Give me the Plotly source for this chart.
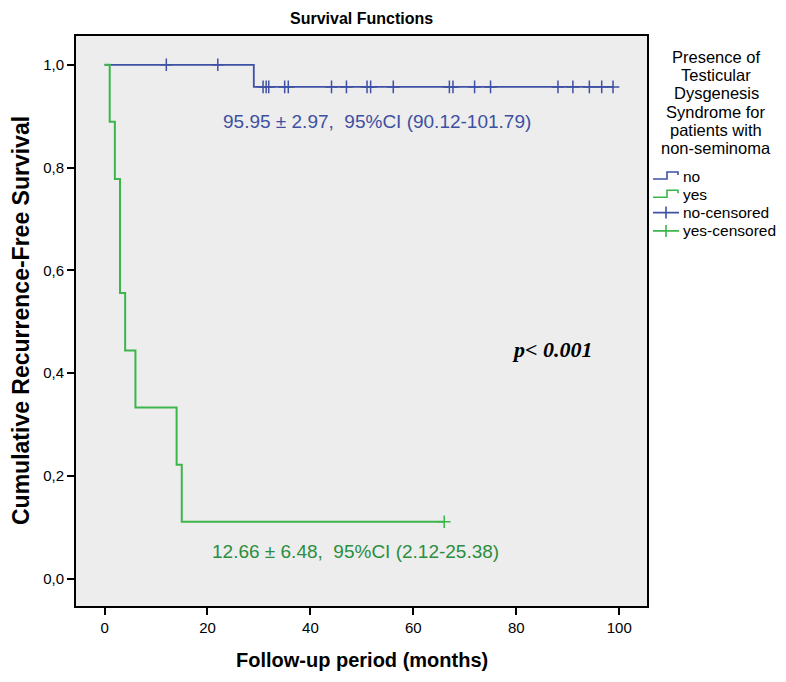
import plotly.graph_objects as go

# ---- data ----
no_time = [0, 29, 98.8]
no_surv = [1.0, 0.957, 0.957]
no_cens_time = [12, 22, 30.8, 31.4, 31.9, 35.0, 35.7, 44.1, 47.0, 51.0, 51.7, 56.1,
                67.0, 67.7, 71.9, 75.0, 88.1, 91.0, 94.2, 96.6, 98.8]
no_cens_surv = [1.0, 1.0] + [0.957] * 19

yes_time = [0, 1, 2, 3, 4, 6, 14, 15, 66]
yes_surv = [1.0, 0.889, 0.778, 0.556, 0.444, 0.333, 0.222, 0.111, 0.111]
yes_cens_time = [66]
yes_cens_surv = [0.111]

x_ticks = [0, 20, 40, 60, 80, 100]
y_ticks = [0.0, 0.2, 0.4, 0.6, 0.8, 1.0]

legend_title_lines = ["Presence of", "Testicular", "Dysgenesis", "Syndrome for",
                      "patients with", "non-seminoma"]
legend_names = ["no", "yes", "no-censored", "yes-censored"]

blue = "#3F51A5"
green = "#3CB54A"
blue_txt = "#3E50A2"
green_txt = "#2B8E3E"
FONT = "Arial, Liberation Sans, sans-serif"

# figure geometry (the page adds an 8px body margin)
W, H = 770, 666
ML, MR, MT, MB = 68, 131, 28, 68
PW, PH = W - ML - MR, H - MT - MB


def px(fx):
    return (fx - ML) / PW


def py(fy):
    return (H - MB - fy) / PH


fig = go.Figure()
fig.add_trace(go.Scatter(x=no_time, y=no_surv, mode="lines", line_shape="hv",
                         line=dict(color=blue, width=1.8), name=legend_names[0]))
fig.add_trace(go.Scatter(x=yes_time, y=yes_surv, mode="lines", line_shape="hv",
                         line=dict(color=green, width=2), name=legend_names[1]))
fig.add_trace(go.Scatter(x=no_cens_time, y=no_cens_surv, mode="markers",
                         marker=dict(symbol="cross-thin", size=9,
                                     line=dict(color=blue, width=1.5)),
                         name=legend_names[2]))
fig.add_trace(go.Scatter(x=yes_cens_time, y=yes_cens_surv, mode="markers",
                         marker=dict(symbol="cross-thin", size=9,
                                     line=dict(color=green, width=1.5)),
                         name=legend_names[3]))

fig.update_layout(
    width=W, height=H,
    margin=dict(l=ML, r=MR, t=MT, b=MB),
    paper_bgcolor="white", plot_bgcolor="#EDEDED",
    separators=",.",
    font=dict(family=FONT, color="black"),
    showlegend=False,
)
fig.update_xaxes(range=[-5.55, 105.4], tickvals=x_ticks, ticks="outside", ticklen=7,
                 tickwidth=2, tickcolor="black", showgrid=False, zeroline=False,
                 showline=True, linecolor="black", linewidth=2, mirror=True,
                 tickfont=dict(size=15))
fig.update_yaxes(range=[-0.053, 1.056], tickvals=y_ticks, tickformat=".1f",
                 ticks="outside", ticklen=7, tickwidth=2, tickcolor="black",
                 showgrid=False, zeroline=False, showline=True, linecolor="black",
                 linewidth=2, mirror=True, tickfont=dict(size=15))

annotations = [
    dict(text="<b>Survival Functions</b>", xref="paper", yref="paper", x=0.5, y=1.0,
         yshift=18, xanchor="center", yanchor="middle", showarrow=False,
         font=dict(size=16)),
    dict(text="<b>Cumulative Recurrence-Free Survival</b>", xref="paper", yref="paper",
         x=0, xshift=-55, y=0.5, textangle=-90, xanchor="center", yanchor="middle",
         showarrow=False, font=dict(size=23)),
    dict(text="<b>Follow-up period (months)</b>", xref="paper", yref="paper",
         x=0.5, y=0, yshift=-54, xanchor="center", yanchor="middle",
         showarrow=False, font=dict(size=20)),
    dict(text="95.95 ± 2.97,  95%CI (90.12-101.79)", xref="x", yref="y",
         x=53.0, y=0.89, xanchor="center", yanchor="middle", showarrow=False,
         font=dict(size=19, color=blue_txt)),
    dict(text="12.66 ± 6.48,  95%CI (2.12-25.38)", xref="x", yref="y",
         x=48.7, y=0.053, xanchor="center", yanchor="middle", showarrow=False,
         font=dict(size=19, color=green_txt)),
    dict(text="<b><i>p&lt; 0.001</i></b>", xref="x", yref="y", x=87.0, y=0.447,
         xanchor="center", yanchor="middle", showarrow=False,
         font=dict(size=22, family="Liberation Serif, Times New Roman, serif")),
]
# legend title (one text per line to keep the tight line spacing of the original)
for i, line in enumerate(legend_title_lines):
    annotations.append(dict(text=line, xref="paper", yref="paper", x=px(708),
                            y=py(48.7 + 18.3 * i), xanchor="center", yanchor="middle",
                            showarrow=False, font=dict(size=16.5)))

# legend entries
colors = [blue, green, blue, green]
row_y = [168, 186.3, 204.6, 222.9]
shapes = []
for name, col, cy, k in zip(legend_names, colors, row_y, range(4)):
    annotations.append(dict(text=name, xref="paper", yref="paper", x=px(673),
                            y=py(cy), xanchor="left", yanchor="middle",
                            showarrow=False, font=dict(size=15.5)))
    if k < 2:
        path = (f"M {px(645)} {py(cy + 3)} L {px(659)} {py(cy + 3)} "
                f"L {px(659)} {py(cy - 4)} L {px(670)} {py(cy - 4)} "
                f"L {px(670)} {py(cy - 1)}")
    else:
        path = (f"M {px(645)} {py(cy)} L {px(671)} {py(cy)} "
                f"M {px(658)} {py(cy - 6)} L {px(658)} {py(cy + 6)}")
    shapes.append(dict(type="path", xref="paper", yref="paper", path=path,
                       line=dict(color=col, width=1.6)))

fig.update_layout(annotations=annotations, shapes=shapes)

fig.write_html("out.html")
